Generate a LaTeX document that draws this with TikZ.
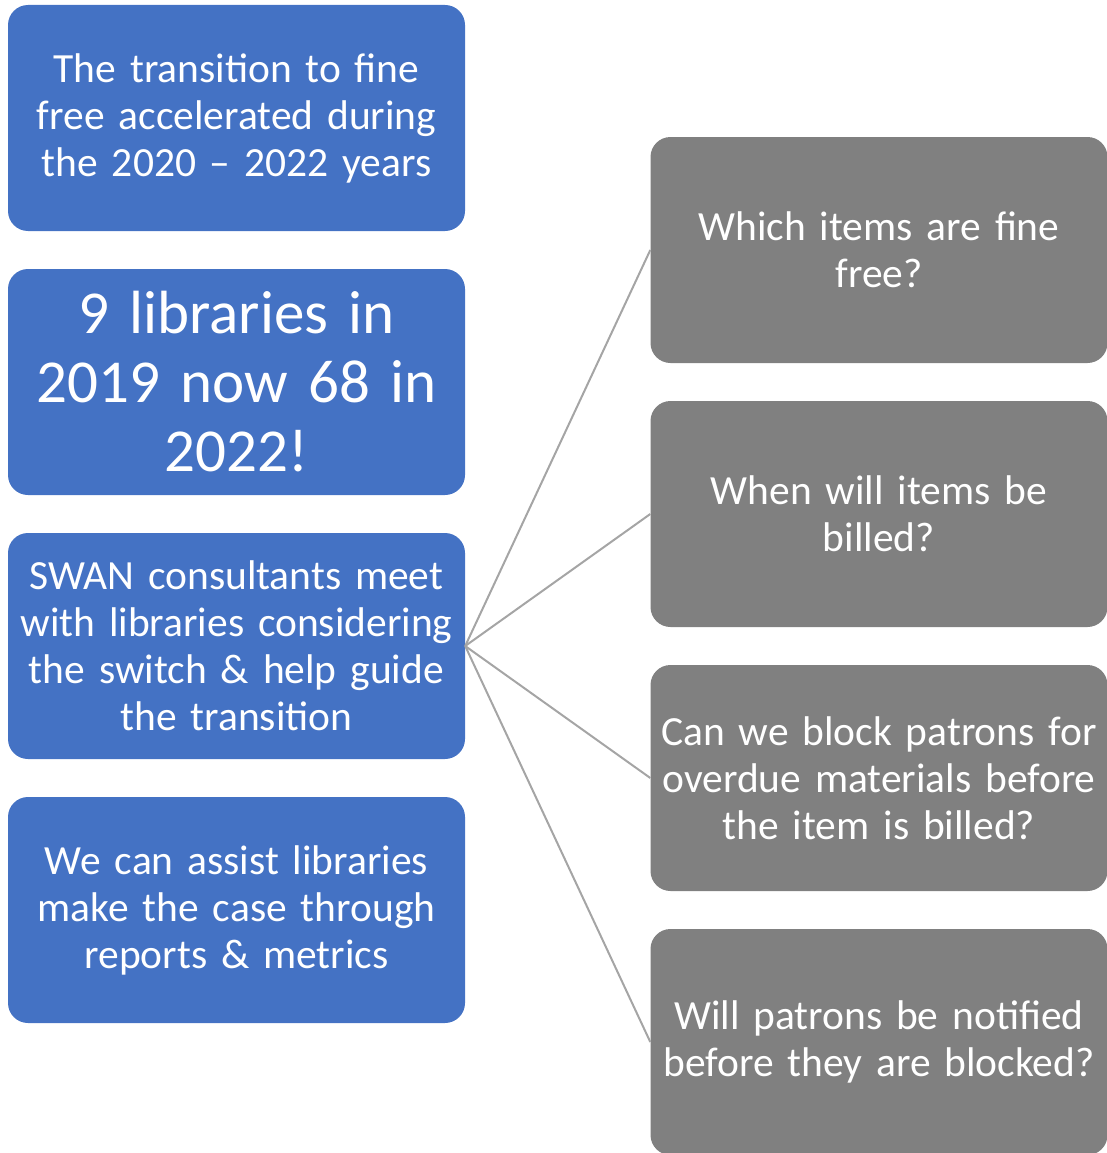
\documentclass[tikz,border=0pt]{standalone}
\usepackage{fontspec}
\setmainfont{Carlito}
\definecolor{boxblue}{HTML}{4472C4}
\definecolor{boxgray}{HTML}{808080}
\definecolor{linegray}{HTML}{A5A5A5}
\begin{document}
\begin{tikzpicture}[x=1pt,y=-1pt,
  card/.style={rounded corners=20pt, minimum width=457pt, minimum height=226pt, text width=456pt, align=center, text=white, inner sep=0pt, font=\fontsize{41.5}{47}\selectfont},
  bluecard/.style={card, fill=boxblue},
  graycard/.style={card, fill=boxgray},
  link/.style={draw=linegray, line width=2pt}]
\useasboundingbox (0,0) rectangle (1107,1153);
\node[bluecard] (b1) at (236.5,118) {The transition to fine\\free accelerated during\\the 2020 -- 2022 years};
\node[bluecard, font=\fontsize{61}{69}\selectfont] (b2) at (236.5,382) {9 libraries in\\2019 now 68 in\\2022!};
\node[bluecard] (b3) at (236.5,646) {SWAN consultants meet\\with libraries considering\\the switch \& help guide\\the transition};
\node[bluecard] (b4) at (236.5,910) {We can assist libraries\\make the case through\\reports \& metrics};
\node[graycard] (g1) at (879,250) {Which items are fine\\free?};
\node[graycard] (g2) at (879,514) {When will items be\\billed?};
\node[graycard] (g3) at (879,778) {Can we block patrons for\\overdue materials before\\the item is billed?};
\node[graycard] (g4) at (879,1042) {Will patrons be notified\\before they are blocked?};
\draw[link] (b3.east) -- (g1.west);
\draw[link] (b3.east) -- (g2.west);
\draw[link] (b3.east) -- (g3.west);
\draw[link] (b3.east) -- (g4.west);
\end{tikzpicture}
\end{document}
